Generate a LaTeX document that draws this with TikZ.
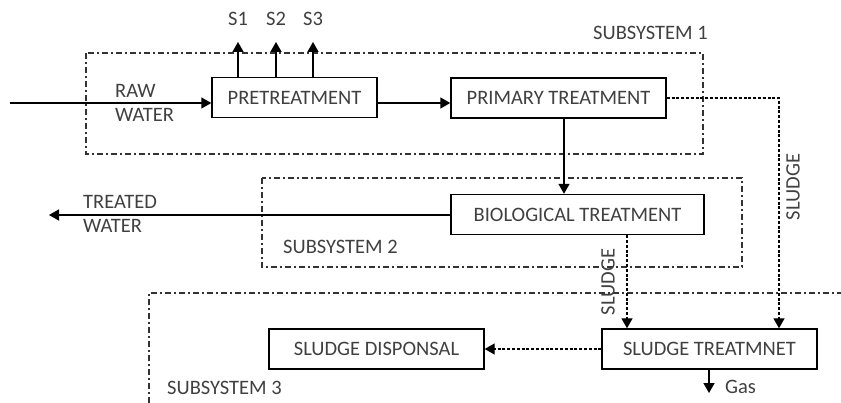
\documentclass[tikz,border=0pt]{standalone}
\usepackage{fontspec}
\setmainfont{Carlito}
\usepackage{tikz}
\usetikzlibrary{arrows.meta, positioning}

\tikzset{
  blk/.style={draw, line width=1.4pt, minimum height=40pt, inner sep=0pt,
    font=\fontsize{20.5}{24}\selectfont, text=black!75},
  lbl/.style={font=\fontsize{20.5}{24}\selectfont, text=black!75, inner sep=0pt},
  flow/.style={line width=1.4pt, -{Triangle[length=10pt,width=11pt]}},
  sludge/.style={line width=1.4pt, dash pattern=on 3pt off 1.8pt,
    -{Triangle[length=10pt,width=11pt]}},
  subsys/.style={line width=1.3pt, black!80, dash pattern=on 6pt off 3pt on 2pt off 3pt}
}

\begin{document}
\begin{tikzpicture}[x=1pt, y=-1pt]
  \useasboundingbox (0,0) rectangle (841,403);

  % subsystems
  \draw[subsys] (86,53) rectangle (703,154);
  \draw[subsys] (262,178) rectangle (742,267);
  \draw[subsys] (149,403) -- (149,293) -- (841,293);
  \node[lbl, anchor=west] (sub1) at (593,33) {SUBSYSTEM 1};
  \node[lbl, anchor=west] (sub2) at (283,247) {SUBSYSTEM 2};
  \node[lbl, anchor=west] (sub3) at (167,388) {SUBSYSTEM 3};

  % units
  \node[blk, minimum width=165pt] (pre) at (294.5,97.5) {PRETREATMENT};
  \node[blk, minimum width=215pt] (prim) at (558.5,98) {PRIMARY TREATMENT};
  \node[blk, minimum width=253pt] (bio) at (577.5,214.5) {BIOLOGICAL TREATMENT};
  \node[blk, minimum width=215pt] (disp) at (376.5,349) {SLUDGE DISPONSAL};
  \node[blk, minimum width=215pt] (sltr) at (709.5,349) {SLUDGE TREATMNET};

  % water line
  \coordinate (raw) at (10,103);
  \draw[flow] (raw) -- (raw -| pre.west);
  \node[lbl, anchor=west, align=left] (rawlbl) at (115,103) {RAW\\WATER};
  \draw[flow] (pre.east |- raw) -- (prim.west |- raw);
  \draw[flow] (prim.south -| 564,0) -- (bio.north -| 564,0);
  \coordinate (out) at (49,215);
  \draw[flow] (bio.west |- out) -- (out);
  \node[lbl, anchor=west, align=left] (outlbl) at (83,214) {TREATED\\WATER};

  % screenings
  \foreach \x/\s in {238/S1, 276/S2, 313/S3} {
    \coordinate (\s) at (\x,42);
    \draw[flow] (pre.north -| \s) -- (\s);
    \node[lbl] (l\s) at (\x,19) {\s};
  }

  % sludge line
  \coordinate (bend) at (779,98);
  \draw[sludge] (prim.east) -- (bend) -- (bend |- sltr.north);
  \node[lbl, rotate=90] (sl1) at (793,187) {SLUDGE};
  \draw[sludge] (bio.south -| 627,0) -- (sltr.north -| 627,0);
  \node[lbl, rotate=90] (sl2) at (608,282) {SLUDGE};
  \draw[sludge] (sltr.west) -- (disp.east);
  \coordinate (gas) at (709,393);
  \draw[flow] (sltr.south -| gas) -- (gas);
  \node[lbl, anchor=west] (gaslbl) at (725,387) {Gas};
\end{tikzpicture}
\end{document}
